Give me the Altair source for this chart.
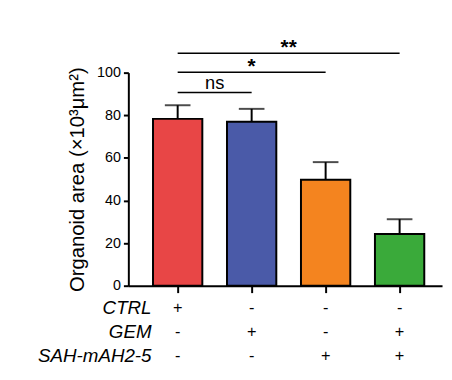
import altair as alt
import pandas as pd

# ---- data ----
groups = [1, 2, 3, 4]
means = [78.3, 77.0, 49.7, 24.3]
uppers = [84.7, 83.0, 58.0, 31.2]
colors = ["#E84646", "#4A5AA8", "#F4841F", "#3AAA3A"]

sig_start = [1, 1, 1]
sig_end = [2, 3, 4]
sig_level = [90.7, 100.2, 109.1]
sig_label = ["ns", "*", "**"]

row_names = ["CTRL", "GEM", "SAH-mAH2-5"]
row_signs = [["+", "-", "-", "-"],
             ["-", "+", "-", "+"],
             ["-", "-", "+", "+"]]

y_ticks = [0, 20, 40, 60, 80, 100]

FONT = "Liberation Sans"
W = 318
H = 216
xscale = alt.Scale(domain=[1 / 3, 1 / 3 + W / 75], nice=False, zero=False, padding=0)
yscale = alt.Scale(domain=[0, 100], nice=False, padding=0)

bars_df = pd.DataFrame({"g": groups, "mean": means, "upper": uppers, "color": colors})
sig_df = pd.DataFrame({"start": sig_start, "end": sig_end, "level": sig_level, "label": sig_label})
rows_df = pd.DataFrame(
    [{"row": r, "g": g, "sign": s}
     for r, signs in zip(row_names, row_signs)
     for g, s in zip(groups, signs)]
)

x_axis = alt.Axis(values=groups, labels=False, title=None, tickSize=7,
                  tickWidth=2, tickColor="black", domainWidth=2,
                  domainColor="black", grid=False)
y_axis = alt.Axis(values=y_ticks, title="Organoid area (×10³μm²)",
                  tickSize=5, tickWidth=2, tickColor="black",
                  domainWidth=2, domainColor="black", grid=False,
                  labelFont=FONT, labelFontSize=14.5, labelColor="black",
                  labelPadding=3, titleFont=FONT, titleFontSize=20.5,
                  titleFontWeight="normal", titleColor="black",
                  titlePadding=9)

base = alt.Chart(bars_df).transform_calculate(x0="datum.g - 1/3", x1="datum.g + 1/3")

bars = base.mark_bar(stroke="black", strokeWidth=2).encode(
    x=alt.X("x0:Q", scale=xscale, axis=x_axis),
    x2="x1:Q",
    y=alt.Y("mean:Q", scale=yscale, axis=y_axis),
    y2=alt.datum(0),
    color=alt.Color("color:N", scale=None),
)
stems = base.mark_rule(color="black", strokeWidth=2).encode(
    x=alt.X("g:Q", scale=xscale, axis=x_axis),
    y=alt.Y("mean:Q", scale=yscale, axis=y_axis),
    y2="upper:Q",
)
caps = base.mark_tick(color="black", orient="horizontal", size=26, thickness=2).encode(
    x=alt.X("g:Q", scale=xscale, axis=x_axis),
    y=alt.Y("upper:Q", scale=yscale, axis=y_axis),
)

sig_base = alt.Chart(sig_df).transform_calculate(mid="(datum.start + datum.end) / 2")
sig_rules = sig_base.mark_rule(color="black", strokeWidth=1.6).encode(
    x=alt.X("start:Q", scale=xscale, axis=x_axis),
    x2="end:Q",
    y=alt.Y("level:Q", scale=yscale, axis=y_axis),
)
sig_ns = sig_base.transform_filter("datum.label == 'ns'").mark_text(
    font=FONT, fontSize=18.5, color="black", baseline="alphabetic", dy=-3
).encode(
    x=alt.X("mid:Q", scale=xscale, axis=x_axis),
    y=alt.Y("level:Q", scale=yscale, axis=y_axis),
    text="label:N",
)
sig_star = sig_base.transform_filter("datum.label != 'ns'").mark_text(
    font=FONT, fontSize=21, fontWeight="bold", color="black", baseline="alphabetic", dy=1
).encode(
    x=alt.X("mid:Q", scale=xscale, axis=x_axis),
    y=alt.Y("level:Q", scale=yscale, axis=y_axis),
    text="label:N",
)

top = alt.layer(bars, stems, caps, sig_rules, sig_ns, sig_star).properties(width=W, height=H)

table = alt.Chart(rows_df).mark_text(font=FONT, fontSize=16.5, color="black").encode(
    x=alt.X("g:Q", scale=xscale, axis=None),
    y=alt.Y("row:N", sort=row_names,
            axis=alt.Axis(title=None, domain=False, ticks=False, labelFont=FONT,
                          labelFontStyle="italic", labelFontSize=19,
                          labelColor="black", labelPadding=-23)),
    text="sign:N",
).properties(width=W, height=73.5)

chart = alt.vconcat(top, table, spacing=2).resolve_scale(
    x="independent", y="independent"
).resolve_axis(x="independent", y="independent").properties(
    padding={"left": 29, "top": 27, "right": 2, "bottom": 5}
).configure_view(stroke=None)

chart.save("out.html", embed_options={"renderer": "svg", "actions": False})
